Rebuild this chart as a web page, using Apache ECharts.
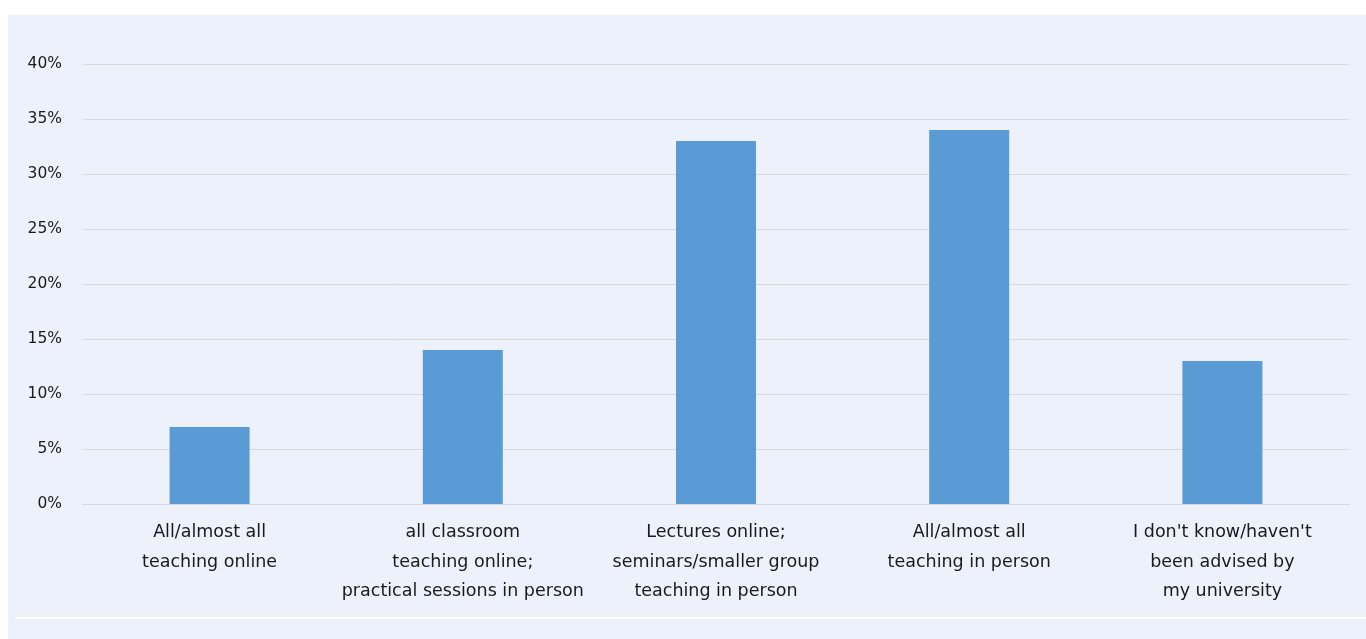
<!DOCTYPE html>
<html><head><meta charset="utf-8">
<script src="https://cdn.jsdelivr.net/npm/echarts@6/dist/echarts.min.js"></script>
<style>html,body{margin:0;padding:0;background:#fff}#c{width:1366px;height:639px}</style>
</head><body><div id="c"></div>
<script>
const categories = [
  "All/almost all\nteaching online",
  "all classroom\nteaching online;\npractical sessions in person",
  "Lectures online;\nseminars/smaller group\nteaching in person",
  "All/almost all\nteaching in person",
  "I don't know/haven't\nbeen advised by\nmy university"
];
const values = [7, 14, 33, 34, 13];
const yTicks = { min: 0, max: 40, interval: 5 };

const chart = echarts.init(document.getElementById('c'), null, {renderer: 'canvas'});
chart.setOption({
  animation: false,
  backgroundColor: '#fff',
  graphic: [
    {type: 'rect', silent: true, z: -10, shape: {x: 8, y: 15, width: 1358, height: 624}, style: {fill: '#EDF1FB'}},
    {type: 'rect', silent: true, z: -9, shape: {x: 15, y: 617, width: 1351, height: 2}, style: {fill: '#FFFFFF'}}
  ],
  grid: {left: 83, right: 17, top: 64, bottom: 135, containLabel: false},
  xAxis: {
    type: 'category',
    data: categories,
    axisTick: {show: false},
    axisLine: {show: true, lineStyle: {color: '#D9D9D9', width: 1}},
    axisLabel: {
      interval: 0, color: '#1a1a1a', fontSize: 17.5, lineHeight: 29.5, margin: 14,
      fontFamily: '"DejaVu Sans", sans-serif'
    }
  },
  yAxis: {
    type: 'value', min: yTicks.min, max: yTicks.max, interval: yTicks.interval,
    axisLine: {show: false}, axisTick: {show: false},
    splitLine: {lineStyle: {color: '#D9D9D9', width: 1}},
    axisLabel: {
      formatter: '{value}%', color: '#1a1a1a', fontSize: 15.5, margin: 21,
      fontFamily: '"DejaVu Sans", sans-serif'
    }
  },
  series: [{
    type: 'bar', data: values, barWidth: 80,
    itemStyle: {color: '#5B9BD5'}
  }]
});
</script></body></html>
